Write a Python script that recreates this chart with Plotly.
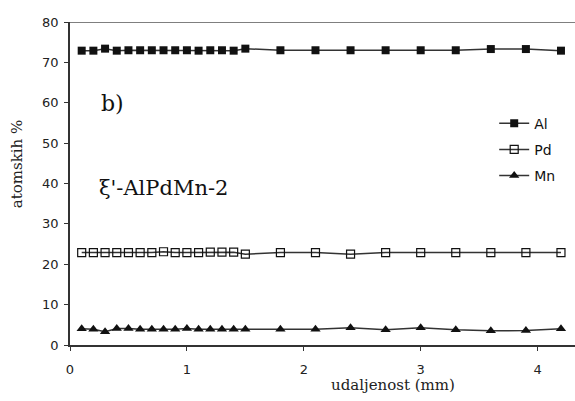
import plotly.graph_objects as go

x_mm = [0.1, 0.2, 0.3, 0.4, 0.5, 0.6, 0.7, 0.8, 0.9, 1.0, 1.1, 1.2, 1.3, 1.4, 1.5,
        1.8, 2.1, 2.4, 2.7, 3.0, 3.3, 3.6, 3.9, 4.2]
al = [72.9, 72.9, 73.4, 72.9, 73.0, 73.0, 73.0, 73.0, 73.0, 73.0, 72.9, 73.0, 73.0, 72.9, 73.4,
      73.0, 73.0, 73.0, 73.0, 73.0, 73.0, 73.3, 73.3, 72.9]
pd_ = [22.9, 22.9, 22.9, 22.9, 22.9, 22.9, 22.9, 23.1, 22.9, 22.9, 22.9, 23.0, 23.0, 23.0, 22.5,
       22.9, 22.9, 22.5, 22.9, 22.9, 22.9, 22.9, 22.9, 22.9]
mn = [4.0, 3.9, 3.3, 4.1, 4.1, 3.9, 3.9, 3.9, 3.9, 4.1, 3.9, 3.9, 3.9, 3.9, 3.9,
      3.9, 3.9, 4.3, 3.8, 4.3, 3.8, 3.5, 3.6, 4.0]

x_ticks = [0, 1, 2, 3, 4]
y_ticks = [0, 10, 20, 30, 40, 50, 60, 70, 80]

LINE = "#333333"
SERIF = "DejaVu Serif"
SANS = "DejaVu Sans"

fig = go.Figure()
series = [
    ("Al", al, dict(symbol="square", size=8, color="#111111")),
    ("Pd", pd_, dict(symbol="square-open", size=8, color="#111111", line=dict(width=1.2))),
    ("Mn", mn, dict(symbol="triangle-up", size=9, color="#111111")),
]
for name, vals, mk in series:
    fig.add_trace(go.Scatter(x=x_mm, y=vals, name=name, mode="lines+markers",
                             line=dict(color=LINE, width=1.5), marker=mk,
                             legendgroup=name))

fig.add_shape(type="line", xref="paper", yref="y", x0=0, x1=1, y0=80, y1=80,
              line=dict(color="#555555", width=1.5))

fig.add_annotation(text="b)", x=0.085, y=59.9, xref="paper", yref="y", showarrow=False,
                   xanchor="center", yanchor="middle",
                   font=dict(family=SERIF, size=22, color="#111111"))
fig.add_annotation(text="ξ'-AlPdMn-2", x=0.053, y=39.0, xref="paper", yref="y", showarrow=False,
                   xanchor="left", yanchor="middle",
                   font=dict(family=SERIF, size=21, color="#111111"))
fig.add_annotation(text="atomskih %", x=-0.105, y=45, xref="paper", yref="y", showarrow=False,
                   textangle=-90, xanchor="center", yanchor="middle",
                   font=dict(family=SERIF, size=15, color="#222222"))
fig.add_annotation(text="udaljenost (mm)", x=0.64, y=-0.124, xref="paper", yref="paper",
                   showarrow=False, xanchor="center", yanchor="middle",
                   font=dict(family=SERIF, size=15, color="#222222"))

fig.update_layout(
    width=575, height=401,
    margin=dict(l=70, r=0, t=22, b=56),
    paper_bgcolor="white", plot_bgcolor="white",
    showlegend=True,
    legend=dict(x=0.84, y=0.735, xanchor="left", yanchor="top",
                font=dict(family=SANS, size=14, color="#111111"),
                tracegroupgap=5, bgcolor="rgba(0,0,0,0)"),
    xaxis=dict(range=[0, 4.32], tickvals=x_ticks, showgrid=False, zeroline=False,
               showline=True, linecolor=LINE, linewidth=1.5,
               ticks="outside", ticklen=4, tickcolor=LINE, ticklabelstandoff=8,
               tickfont=dict(family=SANS, size=13, color="#222222")),
    yaxis=dict(range=[0, 80], tickvals=y_ticks, showgrid=False, zeroline=False,
               showline=True, linecolor=LINE, linewidth=1.5,
               ticks="outside", ticklen=4, tickcolor=LINE, ticklabelstandoff=3,
               tickfont=dict(family=SANS, size=13, color="#222222")),
)

fig.write_html("out.html")
